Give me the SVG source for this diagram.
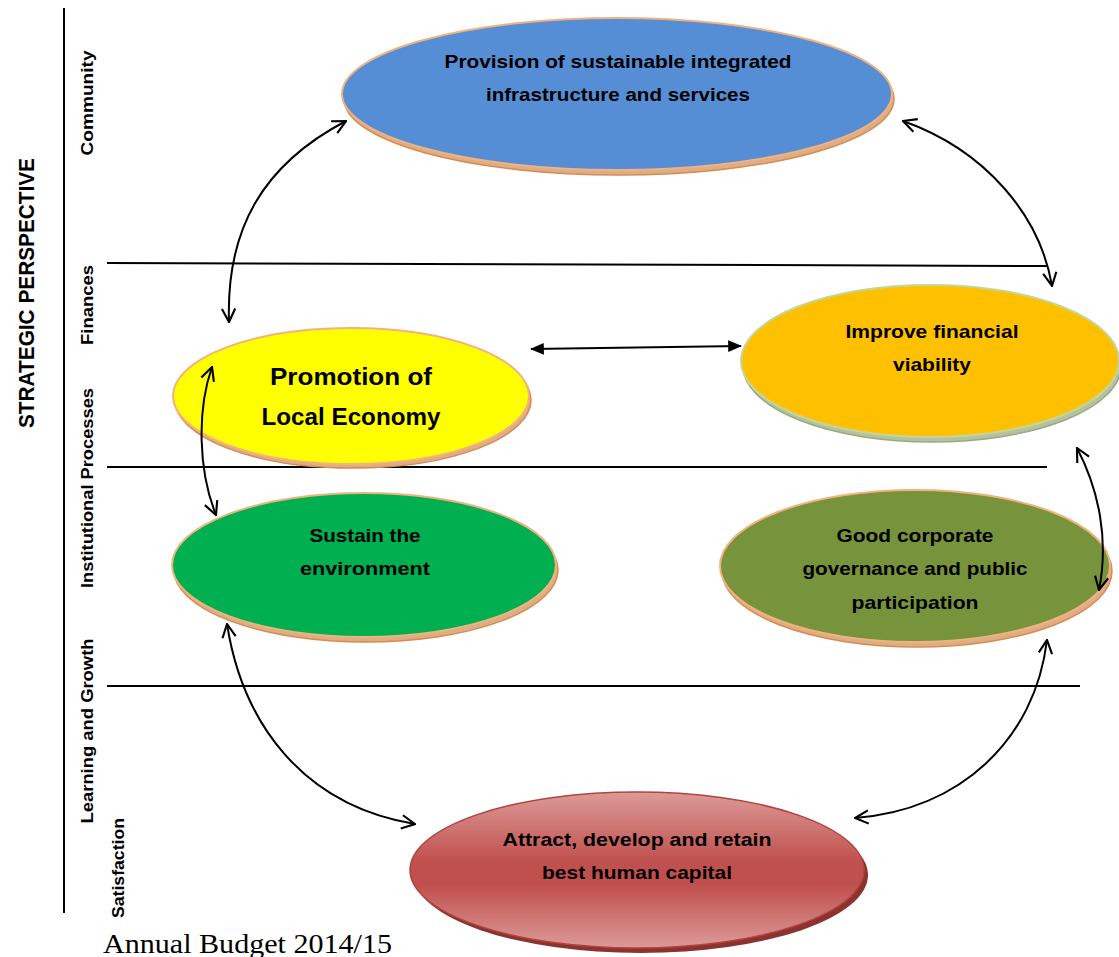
<svg xmlns="http://www.w3.org/2000/svg" width="1119" height="957" viewBox="0 0 1119 957">
<style>
.lbl{font-family:"Liberation Sans",Arial,sans-serif;font-weight:bold;fill:#000;text-anchor:middle}
.side{font-family:"Liberation Sans",Arial,sans-serif;font-weight:bold;font-size:16px;fill:#000;text-anchor:middle}
.sep{stroke:#000;stroke-width:2;fill:none}
.con{stroke:#000;stroke-width:2;fill:none}
.edge{fill:#dcae86;stroke:#d98a4e;stroke-width:1.5}
</style>
<defs>
<marker id="open" viewBox="0 0 12 12" refX="11" refY="6" markerWidth="16" markerHeight="16" markerUnits="userSpaceOnUse" orient="auto-start-reverse">
<path d="M1,1 L11,6 L1,11" fill="none" stroke="#000" stroke-width="1.6"/>
</marker>
<marker id="fill" viewBox="0 0 12 12" refX="11" refY="6" markerWidth="14" markerHeight="14" markerUnits="userSpaceOnUse" orient="auto-start-reverse">
<path d="M0,1 L12,6 L0,11 Z" fill="#000"/>
</marker>
<linearGradient id="red" x1="0" y1="0" x2="0" y2="1">
<stop offset="0" stop-color="#dc9a98"/>
<stop offset="0.45" stop-color="#c0504d"/>
<stop offset="0.6" stop-color="#c0504d"/>
<stop offset="1" stop-color="#dc9a98"/>
</linearGradient>
</defs>

<g id="axis">
<line x1="64" y1="8" x2="64" y2="913" class="sep"/>
<text class="side" style="font-size:22px" transform="translate(34,293) rotate(-90)" textLength="270" lengthAdjust="spacingAndGlyphs">STRATEGIC PERSPECTIVE</text>
<text class="side" transform="translate(93,103) rotate(-90)" textLength="105" lengthAdjust="spacingAndGlyphs">Community</text>
<text class="side" transform="translate(93,305) rotate(-90)" textLength="80" lengthAdjust="spacingAndGlyphs">Finances</text>
<text class="side" transform="translate(93,488) rotate(-90)" textLength="200" lengthAdjust="spacingAndGlyphs">Institutional Processes</text>
<text class="side" transform="translate(93,731) rotate(-90)" textLength="185" lengthAdjust="spacingAndGlyphs">Learning and Growth</text>
<text class="side" transform="translate(124,868) rotate(-90)" textLength="100" lengthAdjust="spacingAndGlyphs">Satisfaction</text>
</g>

<g id="separators">
<line x1="107" y1="263" x2="1047" y2="266" class="sep"/>
<line x1="107" y1="467" x2="1047" y2="467" class="sep"/>
<line x1="107" y1="686" x2="1080" y2="686" class="sep"/>
</g>

<g id="node-infrastructure">
<ellipse cx="619" cy="99" rx="275" ry="76" class="edge"/>
<ellipse cx="617" cy="94" rx="275" ry="76" fill="#558ed5" stroke="#f2b27f" stroke-width="2"/>
<text class="lbl" x="618" y="68" font-size="19" textLength="347" lengthAdjust="spacingAndGlyphs">Provision of sustainable integrated</text>
<text class="lbl" x="618" y="101" font-size="19" textLength="264" lengthAdjust="spacingAndGlyphs">infrastructure and services</text>
</g>

<g id="node-economy">
<ellipse cx="353" cy="400" rx="178" ry="68" class="edge"/>
<ellipse cx="351" cy="396" rx="178" ry="68" fill="#ffff00" stroke="#f2b27f" stroke-width="2"/>
<text class="lbl" x="351" y="385" font-size="24" textLength="162" lengthAdjust="spacingAndGlyphs">Promotion of</text>
<text class="lbl" x="351" y="425" font-size="24" textLength="179" lengthAdjust="spacingAndGlyphs">Local Economy</text>
</g>

<g id="node-financial">
<ellipse cx="932" cy="366" rx="189" ry="76" fill="#b5c1a0" stroke="#9aab7e" stroke-width="1.5"/>
<ellipse cx="930" cy="361" rx="189" ry="76" fill="#ffc000" stroke="#c3d69b" stroke-width="2"/>
<text class="lbl" x="932" y="338" font-size="19" textLength="173" lengthAdjust="spacingAndGlyphs">Improve financial</text>
<text class="lbl" x="932" y="371" font-size="19" textLength="78" lengthAdjust="spacingAndGlyphs">viability</text>
</g>

<g id="node-environment">
<ellipse cx="366" cy="570" rx="192" ry="72" class="edge"/>
<ellipse cx="364" cy="565" rx="192" ry="72" fill="#00b050" stroke="#f2b27f" stroke-width="2"/>
<text class="lbl" x="365" y="542" font-size="19" textLength="111" lengthAdjust="spacingAndGlyphs">Sustain the</text>
<text class="lbl" x="365" y="575" font-size="19" textLength="130" lengthAdjust="spacingAndGlyphs">environment</text>
</g>

<g id="node-governance">
<ellipse cx="917" cy="571" rx="195" ry="76" class="edge"/>
<ellipse cx="915" cy="566" rx="195" ry="76" fill="#77933c" stroke="#f2b27f" stroke-width="2"/>
<text class="lbl" x="915" y="542" font-size="19" textLength="157" lengthAdjust="spacingAndGlyphs">Good corporate</text>
<text class="lbl" x="915" y="575" font-size="19" textLength="225" lengthAdjust="spacingAndGlyphs">governance and public</text>
<text class="lbl" x="915" y="609" font-size="19" textLength="127" lengthAdjust="spacingAndGlyphs">participation</text>
</g>

<g id="node-human-capital">
<ellipse cx="641" cy="875" rx="227" ry="78" fill="#8c3330"/>
<ellipse cx="637" cy="870" rx="227" ry="78" fill="url(#red)" stroke="#b0443f" stroke-width="1.5"/>
<text class="lbl" x="637" y="846" font-size="19" textLength="269" lengthAdjust="spacingAndGlyphs">Attract, develop and retain</text>
<text class="lbl" x="637" y="879" font-size="19" textLength="190" lengthAdjust="spacingAndGlyphs">best human capital</text>
</g>

<g id="connectors">
<path class="con" d="M229,322 C226,230 262,165 346,121" marker-start="url(#open)" marker-end="url(#open)"/>
<path class="con" d="M903,121 C985,150 1040,215 1052,286" marker-start="url(#open)" marker-end="url(#open)"/>
<path class="con" d="M531,349 L741,346" marker-start="url(#fill)" marker-end="url(#fill)"/>
<path class="con" d="M212,367 C197,410 198,470 216,515" marker-start="url(#open)" marker-end="url(#open)"/>
<path class="con" d="M1077,448 C1099,490 1109,540 1099,590" marker-start="url(#open)" marker-end="url(#open)"/>
<path class="con" d="M227,624 C242,720 300,805 415,824" marker-start="url(#open)" marker-end="url(#open)"/>
<path class="con" d="M1047,640 C1035,740 960,810 855,818" marker-start="url(#open)" marker-end="url(#open)"/>
</g>

<g id="footer">
<text x="103" y="953" font-family="'Liberation Serif','Times New Roman',serif" font-size="28" fill="#000" textLength="289" lengthAdjust="spacingAndGlyphs">Annual Budget 2014/15</text>
</g>
</svg>
